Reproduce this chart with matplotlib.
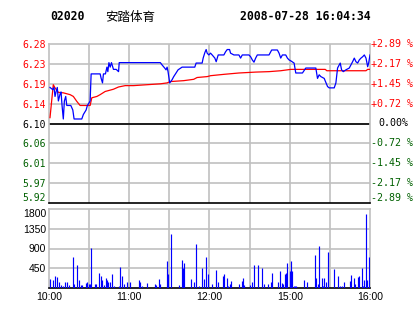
import matplotlib
matplotlib.use("Agg")
import matplotlib.pyplot as plt
import matplotlib.transforms as mtransforms

# --- data ----------------------------------------------------------------
code = "02020"
name = "安踏体育"
stamp = "2008-07-28 16:04:34"
prev_close = 6.10
max_pct = 2.89

# minutes after 10:00 (12:30 -> 14:30 lunch break removed), 240 = 16:00
price_min = [0.75, 2.8, 3.75, 4.5, 5.25, 6.2, 7, 8.25, 9, 9.75, 10.7, 11.5, 12.5, 13.3,
             16.3, 17.8, 18.75, 24.5, 25.7, 27.75, 28.7, 29.8, 30.75, 31.5, 38.25, 39,
             40, 40.7, 42.2, 43.3, 44, 44.8, 45.75, 46.7, 48.2, 50.25, 52, 52.5, 83.25,
             84.5, 86.5, 87.5, 88.3, 89, 90.25, 92, 93.25, 95, 96.5, 99.5, 109, 110,
             114.5, 115.25, 116.5, 117.5, 118.25, 119.5, 120.75, 122, 124, 125, 126.5,
             130.75, 132, 133.25, 135, 135.75, 138.25, 142, 143.25, 144.5, 149.5,
             150.75, 152, 153.25, 154.5, 155.75, 164.5, 166.5, 170.75, 172, 173.25,
             174.5, 177, 178.25, 179.5, 180.75, 183.25, 184.5, 189.5, 192, 199.5,
             200.75, 202, 203.25, 205.75, 208.25, 209.5, 213.25, 214.5, 215.75, 217,
             217.75, 218.75, 220, 222, 224.5, 227, 228.25, 229.5, 230.75, 232, 233.25,
             234.5, 235.75, 237, 238.25, 239, 240]
price = [6.18, 6.175, 6.18, 6.16, 6.17, 6.18, 6.15, 6.165, 6.17, 6.14, 6.11, 6.15, 6.16, 6.14,
         6.14, 6.13, 6.11, 6.11, 6.12, 6.13, 6.14, 6.145, 6.15, 6.21, 6.21, 6.20,
         6.19, 6.21, 6.21, 6.225, 6.215, 6.235, 6.225, 6.235, 6.22, 6.22, 6.215, 6.235, 6.235,
         6.23, 6.223, 6.219, 6.225, 6.215, 6.19, 6.197, 6.204, 6.212, 6.219, 6.225, 6.225, 6.234,
         6.234, 6.245, 6.257, 6.264, 6.256, 6.252, 6.256, 6.252, 6.245, 6.237, 6.252,
         6.252, 6.259, 6.264, 6.264, 6.256, 6.252, 6.252, 6.245, 6.252, 6.252,
         6.248, 6.241, 6.236, 6.245, 6.252, 6.252, 6.263, 6.263, 6.256, 6.245,
         6.252, 6.252, 6.245, 6.241, 6.239, 6.234, 6.212, 6.212, 6.223, 6.223,
         6.20, 6.208, 6.204, 6.20, 6.182, 6.179, 6.179, 6.19, 6.223, 6.23,
         6.234, 6.219, 6.215, 6.219, 6.223, 6.237, 6.245, 6.237, 6.234, 6.241, 6.245,
         6.248, 6.252, 6.245, 6.226, 6.234, 6.252]

avg_min = [0.75, 3.2, 4.5, 7, 10.7, 15.75, 18.2, 20.8, 23.25, 30.75, 32, 35.8, 38.25, 42,
           48.2, 52, 57, 63.2, 73.3, 83.25, 88.3, 90.75, 100.7, 108.2, 110.75, 118.3,
           120.75, 130.75, 142, 154.5, 164.5, 173.25, 180.75, 206.5, 207.75, 237,
           238.25, 240]
avg_price = [6.113, 6.186, 6.179, 6.169, 6.168, 6.164, 6.160, 6.149, 6.14, 6.14, 6.157, 6.16,
             6.164, 6.171, 6.176, 6.181, 6.184, 6.184, 6.186, 6.188, 6.19, 6.193, 6.195,
             6.198, 6.202, 6.204, 6.206, 6.209, 6.212, 6.214, 6.215, 6.217, 6.22, 6.22,
             6.217, 6.217, 6.22, 6.22]

vol_min = [0.75, 3.25, 4.75, 6.25, 7.75, 9.25, 10.75, 12.25, 13.75, 15.25,
           18.25, 19, 21.25, 22.75, 24.25, 25, 28, 28.75, 30.25, 31,
           31.75, 34.25, 35, 37.75, 39.25, 40, 40.75, 42.25, 43, 43.75,
           45.25, 46.75, 48.25, 52, 52.75, 54.25, 55.75, 58, 60.25, 67,
           67.75, 69.25, 73, 79, 79.75, 82, 82.75, 88, 88.75, 91,
           97, 99.25, 100, 100.75, 106, 108.25, 109.75, 112, 114.25, 115.75,
           117.25, 118.75, 121.5, 124.5, 126, 129.75, 130.5, 132.75, 133.5, 135,
           135.75, 141.75, 144, 144.75, 145.5, 150, 151.5, 153, 156, 159,
           160.5, 163.5, 165.75, 166.5, 171, 172.5, 174, 174.75, 176.25, 177,
           177.75, 180, 180.75, 181.5, 183, 183.75, 184.5, 190.5, 192.75, 198.75,
           199.5, 201, 201.75, 204, 204.75, 205.5, 207, 208.5, 213, 216,
           217.5, 219, 220.5, 225, 225.75, 228, 228.75, 231, 231.75, 234,
           234.75, 235.5, 237, 237.75, 239.25, 240]
vol = [213, 190, 281, 258, 144, 76, 53, 144, 144, 76,
       714, 99, 532, 175, 61, 76, 114, 144, 99, 99,
       920, 99, 99, 350, 281, 175, 76, 236, 190, 144,
       144, 327, 53, 53, 486, 281, 99, 144, 144, 190,
       144, 53, 122, 99, 76, 213, 99, 623, 327, 1239,
       76, 646, 464, 578, 213, 144, 1011, 53, 464, 213,
       714, 327, 99, 418, 144, 281, 327, 236, 53, 99,
       167, 99, 167, 236, 76, 76, 144, 532, 532, 464,
       99, 99, 144, 350, 144, 395, 122, 99, 327, 350,
       578, 395, 623, 395, 53, 53, 53, 190, 144, 760,
       236, 99, 965, 236, 53, 236, 144, 828, 441, 281,
       53, 53, 144, 167, 304, 236, 99, 258, 281, 464,
       53, 190, 1695, 190, 714, 441]

time_ticks = [0, 60, 120, 180, 240]
time_labels = ["10:00", "11:00", "12:00", "15:00", "16:00"]
vol_ticks = [450, 900, 1350, 1800]

# --- styling ---------------------------------------------------------------
RED = "#ff0000"
GREEN = "#006000"
BLUE = "#0000ff"
GRID = "#c0c0c0"
MONO = "DejaVu Sans Mono"

fig = plt.figure(figsize=(4.14, 3.14), dpi=100)
fig.patch.set_facecolor("white")

ax = fig.add_axes([49 / 414, 1 - 203 / 314, 321 / 414, 159 / 314])
axv = fig.add_axes([49 / 414, 1 - 288 / 314, 321 / 414, 79 / 314])

step = max_pct / 4
pct_levels = [k * step for k in range(-4, 5)]
price_levels = [prev_close * (1 + p / 100) for p in pct_levels]

ax.set_xlim(0, 240)
ax.set_ylim(price_levels[0], price_levels[-1])
for a in (ax, axv):
    for x in range(30, 240, 30):
        a.axvline(x, color=GRID, lw=1.2, zorder=0)
    for s in a.spines.values():
        s.set_color(GRID)
        s.set_linewidth(1.2)
    a.set_xticks([])
    a.tick_params(length=0)

for lvl in price_levels[1:-1]:
    ax.axhline(lvl, color=GRID, lw=1.2, zorder=0)
ax.axhline(prev_close, color="black", lw=1.2, zorder=1)
ax.spines["bottom"].set_color("black")

ax.plot(avg_min, avg_price, color=RED, lw=0.9, zorder=3)
ax.plot(price_min, price, color=BLUE, lw=0.9, zorder=4)

# left price labels (bottom one nudged up like the original)
ax.set_yticks(price_levels)
ax.set_yticklabels(["%.2f" % v for v in price_levels], family=MONO, fontsize=7)
for lbl, p in zip(ax.get_yticklabels(), pct_levels):
    lbl.set_color(RED if p > 0 else (GREEN if p < 0 else "black"))
ax.get_yticklabels()[0].set_verticalalignment("bottom")
ax.tick_params(axis="y", pad=2)

# right percent labels
trans = mtransforms.blended_transform_factory(ax.transAxes, ax.transData)
for lvl, p in zip(price_levels, pct_levels):
    if p > 0:
        txt, col = "+%.2f %%" % p, RED
    elif p < 0:
        txt, col = "-%.2f %%" % abs(p), GREEN
    else:
        txt, col = "0.00%", "black"
    ax.text(1.004 if p != 0 else 1.025, lvl, txt, transform=trans, color=col,
            family=MONO, fontsize=7.2, ha="left",
            va="bottom" if lvl == price_levels[0] else "center", clip_on=False)

# volume
axv.set_xlim(0, 240)
axv.set_ylim(0, 1800)
for v in vol_ticks[:-1]:
    axv.axhline(v, color=GRID, lw=1.2, zorder=0)
axv.spines["bottom"].set_color("black")
axv.vlines(vol_min, 0, vol, color=BLUE, lw=0.85, zorder=3)
axv.set_yticks(vol_ticks)
axv.set_yticklabels([str(v) for v in vol_ticks], family="Liberation Sans", fontsize=7.5)
axv.get_yticklabels()[-1].set_verticalalignment("top")
axv.tick_params(axis="y", pad=2)
axv.set_xticks(time_ticks)
axv.set_xticklabels(time_labels, family="Liberation Sans", fontsize=7.5)
axv.tick_params(axis="x", pad=3)

# header
fig.text(50 / 414, 1 - 17 / 314, code, family=MONO, weight="bold", fontsize=8.3,
         va="center", ha="left")
fig.text(105 / 414, 1 - 17 / 314, name, family=["Noto Sans CJK SC", "DejaVu Sans"],
         fontsize=9, va="center", ha="left")
fig.text(371 / 414, 1 - 17 / 314, stamp, family=MONO, weight="bold", fontsize=8.3,
         va="center", ha="right")

fig.savefig("out.png", dpi=100)
